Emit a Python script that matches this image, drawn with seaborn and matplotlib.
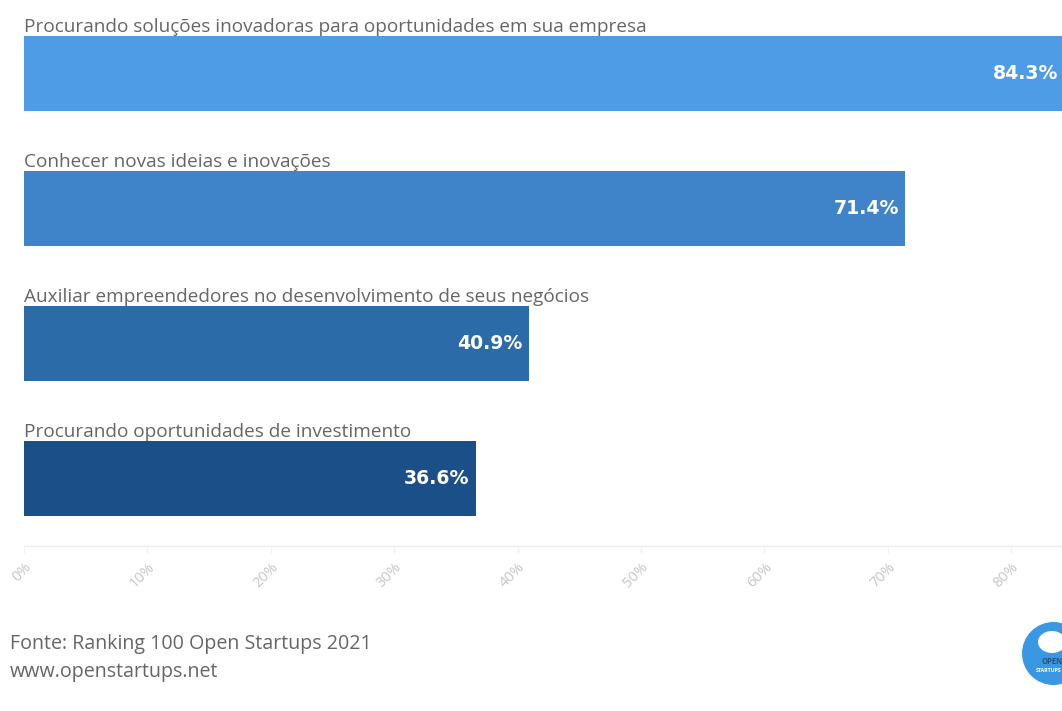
import matplotlib
matplotlib.use("Agg")
import matplotlib.pyplot as plt
from matplotlib.patches import Circle, Ellipse
import pandas as pd
import seaborn as sns

categories = [
    "Procurando soluções inovadoras para oportunidades em sua empresa",
    "Conhecer novas ideias e inovações",
    "Auxiliar empreendedores no desenvolvimento de seus negócios",
    "Procurando oportunidades de investimento",
]
values = [84.3, 71.4, 40.9, 36.6]
bar_colors = ["#4E9CE6", "#3F84C8", "#2A6BA8", "#1B4F88"]
x_ticks = [0, 10, 20, 30, 40, 50, 60, 70, 80]
source_lines = ["Fonte: Ranking 100 Open Startups 2021", "www.openstartups.net"]

W, H = 1062, 711
sns.set_theme(style="white")
plt.rcParams["font.family"] = ["Open Sans", "DejaVu Sans"]

fig = plt.figure(figsize=(W / 100, H / 100), dpi=100, facecolor="white")
ax = fig.add_axes([24 / W, 1 - 546 / H, (W - 24) / W, 540 / H])

df = pd.DataFrame({"categoria": categories, "valor": values})
sns.barplot(
    data=df, x="valor", y="categoria", hue="categoria",
    palette=bar_colors, legend=False, width=0.553, saturation=1,
    linewidth=0, ax=ax,
)

ax.set_xlim(0, (W - 24) / 12.34)
ax.set_ylim(3.5, -0.5)
ax.set_xlabel("")
ax.set_ylabel("")
ax.set_yticks([])
sns.despine(ax=ax, left=True, top=True, right=True)
ax.spines["bottom"].set_color("#EDEDED")
ax.spines["bottom"].set_linewidth(1)

ax.set_xticks(x_ticks)
ax.set_xticklabels(
    [f"{t}%" for t in x_ticks], rotation=45, ha="right", va="top",
    rotation_mode="anchor", color="#C6C6C6", fontsize=10.5,
)
ax.tick_params(axis="x", bottom=True, length=5, width=1, color="#F2F2F2", pad=5)

# Category captions sit just above each bar, values inside its right end
for i, (name, val) in enumerate(zip(categories, values)):
    ax.text(0, i - 0.275, name, ha="left", va="bottom", fontsize=13.7, color="#666666")
    ax.annotate(
        f"{val}%", xy=(val, i), xytext=(-4.5, 0), textcoords="offset points",
        ha="right", va="center", fontsize=13.6, fontweight="bold",
        color="white", family="DejaVu Sans", annotation_clip=False,
    )

fig.text(10 / W, 1 - 644 / H, source_lines[0], ha="left", va="center", fontsize=14.1, color="#666666")
fig.text(10 / W, 1 - 672 / H, source_lines[1], ha="left", va="center", fontsize=14.1, color="#666666")

# Round blue badge in the lower right corner, cut by the figure edge
badge = fig.add_axes([0, 0, 1, 1], facecolor="none")
badge.set_xlim(0, W)
badge.set_ylim(H, 0)
badge.axis("off")
badge.add_patch(Circle((1053.5, 653.5), 31.5, color="#3A97E4", lw=0))
badge.add_patch(Ellipse((1052, 642), 28, 22, color="white", lw=0))
badge.text(1041, 662, "OPEN", ha="left", va="center", fontsize=5.5, color="#24507E", fontweight="bold")
badge.text(1036, 671, "STARTUPS", ha="left", va="center", fontsize=3.8, color="white", fontweight="bold")

fig.savefig("out.png", dpi=100, facecolor="white")
